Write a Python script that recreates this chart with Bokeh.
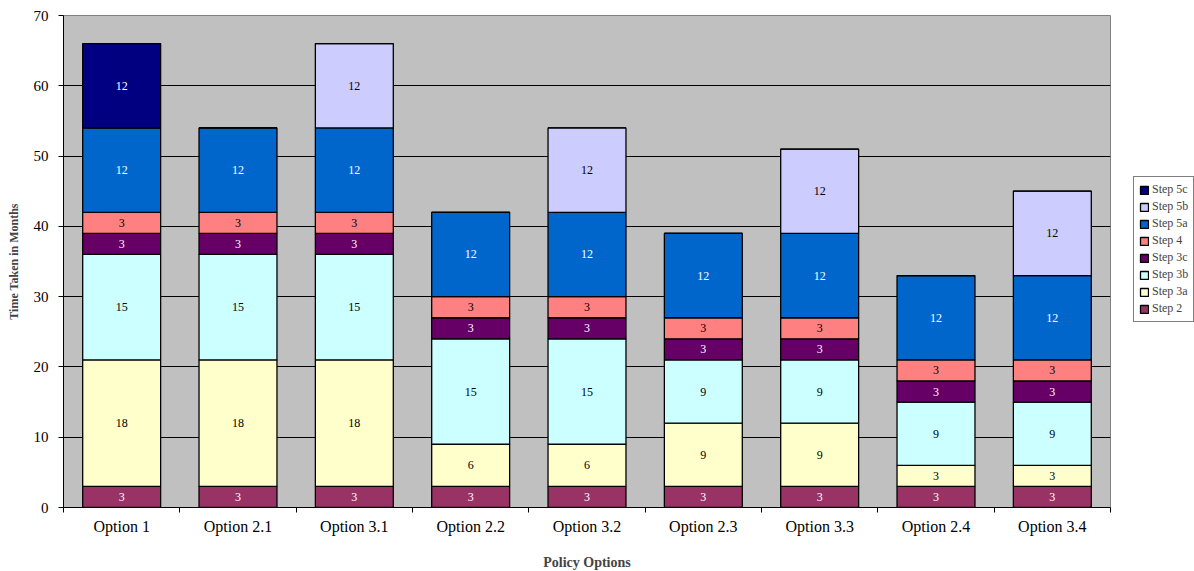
from bokeh.plotting import figure
from bokeh.models import ColumnDataSource, FixedTicker, Range1d, Legend, LegendItem
from bokeh.embed import file_html
from bokeh.resources import INLINE
from bokeh.core.properties import value

options = ["Option 1", "Option 2.1", "Option 3.1", "Option 2.2", "Option 3.2",
           "Option 2.3", "Option 3.3", "Option 2.4", "Option 3.4"]
steps = ["Step 2", "Step 3a", "Step 3b", "Step 3c", "Step 4", "Step 5a", "Step 5b", "Step 5c"]

step_2 = [3, 3, 3, 3, 3, 3, 3, 3, 3]
step_3a = [18, 18, 18, 6, 6, 9, 9, 3, 3]
step_3b = [15, 15, 15, 15, 15, 9, 9, 9, 9]
step_3c = [3, 3, 3, 3, 3, 3, 3, 3, 3]
step_4 = [3, 3, 3, 3, 3, 3, 3, 3, 3]
step_5a = [12, 12, 12, 12, 12, 12, 12, 12, 12]
step_5b = [0, 0, 12, 0, 12, 0, 12, 0, 12]
step_5c = [12, 0, 0, 0, 0, 0, 0, 0, 0]

series = [step_2, step_3a, step_3b, step_3c, step_4, step_5a, step_5b, step_5c]
colors = ["#993366", "#FFFFCC", "#CCFFFF", "#660066", "#FF8080", "#0066CC", "#CCCCFF", "#000080"]
label_colors = ["white", "black", "black", "white", "black", "white", "black", "white"]

FONT = "Liberation Serif"

xs = [i + 0.5 for i in range(len(options))]
data = {"x": xs}
for name, vals in zip(steps, series):
    data[name] = vals
source = ColumnDataSource(data)

p = figure(frame_width=1047, frame_height=492, output_backend="svg", toolbar_location=None,
           x_range=Range1d(0, len(options)), y_range=Range1d(0, 70),
           min_border_left=63, min_border_right=78, min_border_top=15, min_border_bottom=62)
p.background_fill_color = "#C0C0C0"
p.border_fill_color = "white"
p.outline_line_color = "#808080"

renderers = p.vbar_stack(steps, x="x", width=0.67, source=source, color=colors,
                         line_color="black", line_width=1.3)

# segment labels
lx, ly, lt, lc = [], [], [], []
for i in range(len(options)):
    bottom = 0
    for k, vals in enumerate(series):
        v = vals[i]
        if v > 0:
            lx.append(xs[i])
            ly.append(bottom + v / 2)
            lt.append(str(v))
            lc.append(label_colors[k])
        bottom += v
lsrc = ColumnDataSource(dict(x=lx, y=ly, t=lt, c=lc))
p.text(x="x", y="y", text="t", source=lsrc, text_color="c", text_align="center",
       text_baseline="middle", text_font=value(FONT), text_font_size="12px")

# grid
p.xgrid.grid_line_color = None
p.ygrid.grid_line_color = "black"
p.ygrid.grid_line_width = 1
p.ygrid.ticker = FixedTicker(ticks=[10, 20, 30, 40, 50, 60])

# y axis
p.yaxis.ticker = FixedTicker(ticks=[0, 10, 20, 30, 40, 50, 60, 70])
p.yaxis.axis_label = "Time Taken in Months"
p.yaxis.axis_label_text_font = FONT
p.yaxis.axis_label_text_font_style = "bold"
p.yaxis.axis_label_text_font_size = "12px"
p.yaxis.axis_label_standoff = 10
p.yaxis.major_label_text_font = FONT
p.yaxis.major_label_text_font_size = "15px"
p.yaxis.major_label_text_color = "black"
p.yaxis.major_label_standoff = 10
p.yaxis.major_tick_out = 5
p.yaxis.major_tick_in = 0
p.yaxis.minor_tick_line_color = None
p.yaxis.axis_line_color = "black"
p.yaxis.major_tick_line_color = "black"

# x axis
p.xaxis.ticker = FixedTicker(ticks=xs, minor_ticks=list(range(len(options) + 1)))
p.xaxis.major_label_overrides = {x: o for x, o in zip(xs, options)}
p.xaxis.major_tick_line_color = None
p.xaxis.major_tick_out = 0
p.xaxis.major_tick_in = 0
p.xaxis.minor_tick_out = 5
p.xaxis.minor_tick_in = 0
p.xaxis.minor_tick_line_color = "black"
p.xaxis.axis_line_color = "black"
p.xaxis.major_label_text_font = FONT
p.xaxis.major_label_text_font_size = "16px"
p.xaxis.major_label_text_color = "black"
p.xaxis.major_label_standoff = 5
p.xaxis.axis_label = "Policy Options"
p.xaxis.axis_label_text_font = FONT
p.xaxis.axis_label_text_font_style = "bold"
p.xaxis.axis_label_text_font_size = "14px"
p.xaxis.axis_label_standoff = 17

items = [LegendItem(label=steps[k], renderers=[renderers[k]]) for k in range(len(steps) - 1, -1, -1)]
legend = Legend(items=items, location=(23, 185), border_line_color="black",
                background_fill_color="white", background_fill_alpha=1,
                label_text_font=FONT, label_text_font_size="12px",
                glyph_width=10, glyph_height=10, label_height=13, spacing=2,
                padding=5, margin=0, label_standoff=3)
p.add_layout(legend, "right")

open("out.html", "w").write(file_html(p, INLINE))
